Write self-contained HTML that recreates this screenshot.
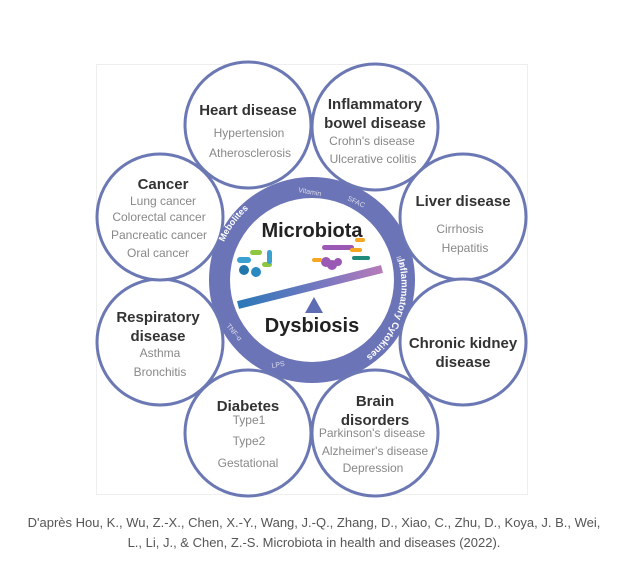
<!DOCTYPE html>
<html><head><meta charset="utf-8"><style>
html,body{margin:0;padding:0;background:#fff;width:628px;height:565px;overflow:hidden}
.cap{position:absolute;left:0;width:628px;text-align:center;font-family:"Liberation Sans",sans-serif;font-size:13px;color:#555;line-height:20px}
</style></head><body>
<svg width="628" height="565" style="position:absolute;left:0;top:0" font-family="Liberation Sans, sans-serif">
<rect x="96.5" y="64.5" width="431" height="430" fill="#fff" stroke="#eee"/>
<defs>
<linearGradient id="bar" x1="0" x2="1"><stop offset="0" stop-color="#2a78b8"/><stop offset="0.6" stop-color="#7a78c0"/><stop offset="1" stop-color="#b67ab8"/></linearGradient>
<path id="arcL" d="M224,242 A94,94 0 0 1 264,198"/>
<path id="arcR" d="M398,260 A90,90 0 0 1 358,362"/>
</defs>
<circle cx="312" cy="280" r="103" fill="#6b74b6"/>
<g fill="#fff" stroke="#6b78b4" stroke-width="3">
<circle cx="248" cy="125" r="63"/><circle cx="375" cy="127" r="63"/>
<circle cx="463" cy="217" r="63"/><circle cx="463" cy="342" r="63"/>
<circle cx="375" cy="433" r="63"/><circle cx="248" cy="433" r="63"/>
<circle cx="160" cy="342" r="63"/><circle cx="160" cy="217" r="63"/>
</g>
<circle cx="312" cy="280" r="82" fill="#fff"/>
<g font-size="9" fill="#fff" font-weight="bold">
<text><textPath href="#arcL">Mebolites</textPath></text>
<text font-size="9.5"><textPath href="#arcR">Inflammatory Cytokines</textPath></text>
</g>
<g font-size="7" fill="#dde">
<text x="298" y="192" transform="rotate(10 298 192)">Vitamin</text>
<text x="347" y="200" transform="rotate(25 347 200)">SFAC</text>
<text x="396" y="257" transform="rotate(70 396 257)">IL-6</text>
<text x="226" y="326" transform="rotate(50 226 326)">TNF-α</text>
<text x="272" y="368" transform="rotate(-10 272 368)">LPS</text>
</g>
<text x="312" y="237" text-anchor="middle" font-size="20" font-weight="bold" fill="#222">Microbiota</text>
<text x="312" y="332" text-anchor="middle" font-size="20" font-weight="bold" fill="#222">Dysbiosis</text>
<line x1="238" y1="305" x2="382" y2="269" stroke="url(#bar)" stroke-width="8"/>
<polygon points="314,297 305,313 323,313" fill="#5e6cb4"/>
<g fill="#3aa0d0"><rect x="237" y="257" width="14" height="6" rx="3"/><rect x="250" y="250" width="12" height="5" rx="2.5" fill="#8ec63f"/><circle cx="244" cy="270" r="5" fill="#2277aa"/><circle cx="256" cy="272" r="5" fill="#2a8ac0"/><rect x="262" y="262" width="10" height="5" rx="2.5" fill="#8ec63f"/><rect x="267" y="250" width="5" height="14" rx="2.5"/></g>
<g fill="#9b59b6"><circle cx="326" cy="262" r="5"/><circle cx="332" cy="265" r="5"/><circle cx="338" cy="262" r="4"/><rect x="322" y="245" width="32" height="5" rx="2.5"/></g>
<g fill="#f5a623"><rect x="350" y="248" width="12" height="4" rx="2"/><rect x="312" y="258" width="10" height="4" rx="2"/><rect x="355" y="238" width="10" height="4" rx="2"/></g>
<g fill="#1e8a7a"><rect x="352" y="256" width="18" height="4" rx="2"/></g>
<g font-weight="bold" font-size="15" fill="#333" text-anchor="middle">
<text x="248" y="115">Heart disease</text>
<text x="375" y="109">Inflammatory</text><text x="375" y="128">bowel disease</text>
<text x="463" y="206">Liver disease</text>
<text x="463" y="348">Chronic kidney</text><text x="463" y="367">disease</text>
<text x="375" y="406">Brain</text><text x="375" y="425">disorders</text>
<text x="248" y="411">Diabetes</text>
<text x="158" y="322">Respiratory</text><text x="158" y="341">disease</text>
<text x="163" y="189">Cancer</text>
</g>
<g font-size="12" fill="#888" text-anchor="middle">
<text x="249" y="137">Hypertension</text><text x="250" y="157">Atherosclerosis</text>
<text x="372" y="145">Crohn's disease</text><text x="373" y="163">Ulcerative colitis</text>
<text x="460" y="233">Cirrhosis</text><text x="465" y="252">Hepatitis</text>
<text x="372" y="437">Parkinson's disease</text><text x="375" y="455">Alzheimer's disease</text><text x="373" y="472">Depression</text>
<text x="249" y="424">Type1</text><text x="249" y="445">Type2</text><text x="248" y="467">Gestational</text>
<text x="160" y="357">Asthma</text><text x="160" y="376">Bronchitis</text>
<text x="163" y="205">Lung cancer</text><text x="159" y="221">Colorectal cancer</text><text x="159" y="239">Pancreatic cancer</text><text x="158" y="257">Oral cancer</text>
</g>
</svg>
<div class="cap" style="top:513px">D'après Hou, K., Wu, Z.-X., Chen, X.-Y., Wang, J.-Q., Zhang, D., Xiao, C., Zhu, D., Koya, J. B., Wei,<br>L., Li, J., &amp; Chen, Z.-S. Microbiota in health and diseases (2022).</div>
</body></html>
